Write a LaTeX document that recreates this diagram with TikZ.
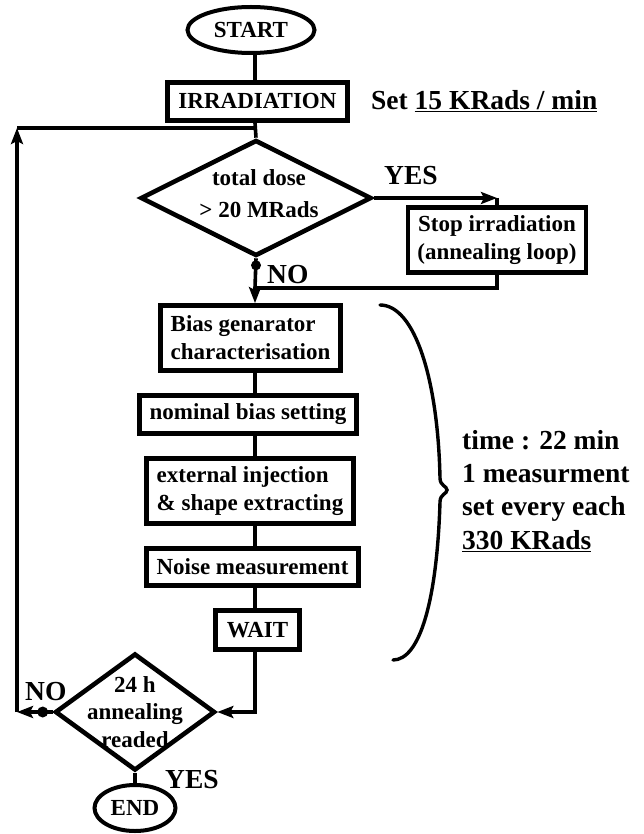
\documentclass[tikz,border=0pt]{standalone}
\usepackage{fontspec}
\setmainfont{Liberation Serif}
\usetikzlibrary{shapes.geometric,arrows.meta}
\begin{document}
\begin{tikzpicture}[x=1pt,y=-1pt,
  txt/.style={font=\bfseries\fontsize{23}{28}\selectfont, inner sep=0pt},
  big/.style={font=\bfseries\fontsize{27.5}{33.3}\selectfont, inner sep=0pt},
  box/.style={draw, line width=4.8pt, rectangle, inner sep=0pt, txt},
  oval/.style={draw, line width=4pt, ellipse, inner sep=0pt, txt},
  dia/.style={draw, line width=4.6pt, diamond, inner sep=0pt},
  conn/.style={line width=3.6pt},
  arr/.style={conn, -{Stealth[length=16pt,width=12pt,inset=3pt]}},
  bracestyle/.style={line width=3.4pt, line cap=round}
]
\useasboundingbox (0,0) rectangle (643,834);
\coordinate (col) at (255,0);

% nodes
\node[oval, minimum width=127pt, minimum height=46pt] (start) at (251,30) {START};
\node[box, minimum width=180pt, minimum height=38pt] (irr) at (257.5,101.5) {IRRADIATION};
\node[big, anchor=base west] (rate) at (371,110) {Set \underline{15 KRads / min}};
\node[dia, minimum width=231pt, minimum height=116pt] (d1) at (256,198) {};
\node[txt, align=center, font=\bfseries\fontsize{23}{32}\selectfont] (d1t) at (259,194) {total dose\\> 20 MRads};
\node[box, minimum width=178pt, minimum height=65pt, align=center] (stop) at (497,240) {Stop irradiation\\(annealing loop)};
\node[big, anchor=base west] (yes1) at (384,185) {YES};
\node[big, anchor=base west] (no1) at (267,283) {NO};
\node[box, minimum width=180pt, minimum height=65pt, align=left] (bias) at (250.5,338) {Bias genarator\\characterisation};
\node[box, minimum width=217pt, minimum height=38pt] (nom) at (248,414.5) {nominal bias setting};
\node[box, minimum width=207pt, minimum height=65pt, align=left] (ext) at (250,491) {external injection\\\& shape extracting};
\node[box, minimum width=212pt, minimum height=37pt] (noise) at (252.5,567) {Noise measurement};
\node[box, minimum width=84pt, minimum height=39pt] (wait) at (257.5,630) {WAIT};
\node[dia, minimum width=160pt, minimum height=117pt] (d2) at (135,712) {};
\node[txt, align=center, font=\bfseries\fontsize{23}{27.5}\selectfont] (d2t) at (135,712) {24 h\\annealing\\readed};
\node[oval, minimum width=81pt, minimum height=46pt] (end) at (135,808) {END};
\node[big, anchor=base west] (yes2) at (165,788) {YES};
\node[big, anchor=base west] (no2) at (25,700) {NO};
\node[big, anchor=north west, align=left] (note) at (462,430) {time : 22 min\\1 measurment\\set every each\\\underline{330 KRads}};

% connectors
\draw[conn] (start.south -| col) -- (irr.north -| col);
\draw[conn] (irr.south -| col) -- (d1.north);
\coordinate (l2) at (17,128);
\coordinate (j0) at (l2 -| col);
\draw[conn] (l2) -- (j0);
\draw[arr] (d1.east) -- (d1.east -| stop.north);
\draw[conn] (d1.east -| stop.north) -- (stop.north);
\path (stop.south) ++(0,13) coordinate (j1);
\coordinate (j2) at (j1 -| col);
\draw[conn] (stop.south) -- (j1) -- (j2);
\draw[conn] (d1.south) -- (j2);
\draw[arr] (j2) -- (bias.north -| col);
\path (d1.south) ++(0,7) coordinate (dot1);
\fill (dot1) circle[radius=5pt];
\draw[conn] (bias.south -| col) -- (nom.north -| col);
\draw[conn] (nom.south -| col) -- (ext.north -| col);
\draw[conn] (ext.south -| col) -- (noise.north -| col);
\draw[conn] (noise.south -| col) -- (wait.north -| col);
\draw[arr] (wait.south -| col) |- (d2.east);
\draw[conn] (d2.south) -- (end.north);
\path (d2.west) ++(-10,0) coordinate (dot2);
\coordinate (l1) at (l2 |- d2.west);
\draw[conn] (d2.west) -- (dot2);
\draw[arr] (dot2) -- (l1);
\draw[arr] (l1) -- (l2);
\fill (dot2) circle[radius=5.5pt];

% brace
\draw[bracestyle] (380,305) .. controls (415,305) and (438,380) .. (440,478)
  .. controls (440,486) and (447,486) .. (447,490)
  .. controls (447,494) and (440,494) .. (440,502)
  .. controls (437,600) and (420,660) .. (393,660);
\end{tikzpicture}
\end{document}
